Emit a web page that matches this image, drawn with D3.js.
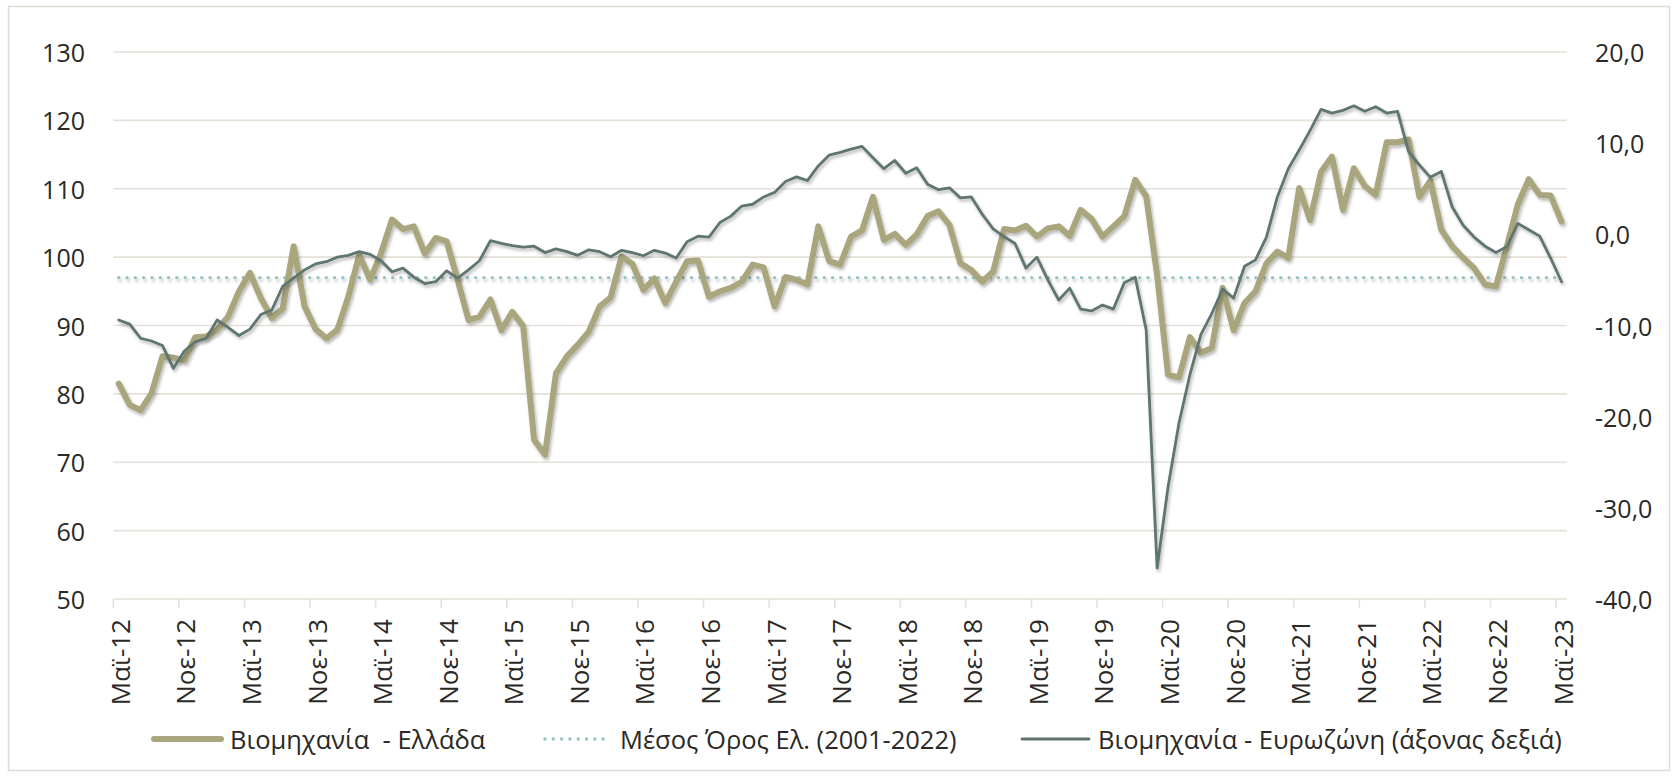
<!DOCTYPE html>
<html>
<head>
<meta charset="utf-8">
<script src="https://cdn.jsdelivr.net/npm/d3@7"></script>
<style>
  html, body { margin: 0; padding: 0; background: #fff; }
  svg { display: block; font-family: "Open Sans", "Noto Sans", sans-serif; }
</style>
</head>
<body>
<svg id="chart" width="1678" height="777"></svg>
<script>
// monthly, Μαϊ-12 .. Μαϊ-23 (133 months)
var greece = [
  81.5, 78.4, 77.6, 80.1, 85.5, 85.3, 84.9, 88.3, 88.4, 89.4,
  91.3, 95.0, 97.7, 94.0, 91.1, 92.5, 101.6, 92.8, 89.5, 88.1,
  89.4, 94.2, 100.3, 96.7, 100.6, 105.5, 104.1, 104.5, 100.5, 102.8,
  102.3, 96.7, 90.8, 91.3, 93.8, 89.3, 92.0, 89.9, 73.3, 71.1,
  83.0, 85.5, 87.2, 89.1, 92.8, 94.1, 100.1, 99.0, 95.2, 96.9,
  93.3, 96.4, 99.4, 99.5, 94.2, 95.0, 95.5, 96.4, 98.9, 98.5,
  92.8, 97.1, 96.7, 96.0, 104.5, 99.4, 98.9, 103.0, 103.9, 108.8,
  102.5, 103.4, 101.8, 103.3, 106.0, 106.7, 104.7, 99.1, 98.1, 96.4,
  97.9, 104.1, 103.9, 104.6, 103.0, 104.2, 104.5, 103.1, 106.9, 105.6,
  103.0, 104.5, 106.0, 111.3, 108.9, 97.4, 82.8, 82.4, 88.3, 86.0,
  86.7, 95.5, 89.3, 93.3, 95.0, 99.1, 100.8, 99.9, 110.1, 105.4,
  112.5, 114.7, 106.9, 113.0, 110.4, 109.1, 116.8, 116.8, 117.2, 108.8,
  111.2, 104.0, 101.6, 99.9, 98.4, 96.0, 95.7, 101.6, 107.7, 111.4,
  109.1, 109.0, 105.2
];

var eurozone = [
  -9.4, -9.85, -11.4, -11.7, -12.2, -14.7, -12.8, -11.8, -11.4, -9.4,
  -10.2, -11.1, -10.4, -8.8, -8.3, -5.7, -4.8, -3.9, -3.25, -3.0,
  -2.5, -2.3, -1.9, -2.2, -2.9, -4.1, -3.7, -4.7, -5.4, -5.2,
  -4.0, -4.8, -3.9, -2.9, -0.7, -1.0, -1.25, -1.4, -1.3, -2.0,
  -1.6, -1.9, -2.3, -1.7, -1.9, -2.45, -1.75, -2.0, -2.35, -1.75,
  -2.05, -2.6, -0.8, -0.2, -0.3, 1.3, 2.0, 3.1, 3.3, 4.1,
  4.6, 5.8, 6.3, 5.9, 7.5, 8.7, 9.0, 9.35, 9.65, 8.4,
  7.2, 8.1, 6.7, 7.3, 5.5, 4.9, 5.1, 4.0, 4.1, 2.2,
  0.6, -0.25, -1.0, -3.7, -2.5, -5.0, -7.2, -5.9, -8.2, -8.4,
  -7.75, -8.2, -5.3, -4.7, -10.5, -36.6, -27.7, -20.7, -15.4, -11.0,
  -8.7, -6.0, -7.0, -3.5, -2.8, -0.3, 4.1, 7.2, 9.25, 11.4,
  13.7, 13.3, 13.6, 14.1, 13.5, 14.0, 13.3, 13.5, 9.1, 7.6,
  6.25, 6.9, 3.0, 1.0, -0.3, -1.3, -2.0, -1.35, 1.2, 0.5,
  -0.2, -2.6, -5.2
];

var averageGreece = 97.0;

var tickLabels = [
  "Μαϊ-12", "Νοε-12", "Μαϊ-13", "Νοε-13", "Μαϊ-14", "Νοε-14", "Μαϊ-15", "Νοε-15",
  "Μαϊ-16", "Νοε-16", "Μαϊ-17", "Νοε-17", "Μαϊ-18", "Νοε-18", "Μαϊ-19", "Νοε-19",
  "Μαϊ-20", "Νοε-20", "Μαϊ-21", "Νοε-21", "Μαϊ-22", "Νοε-22", "Μαϊ-23"
];
var leftTicks = [50, 60, 70, 80, 90, 100, 110, 120, 130];
var rightTicks = [-40, -30, -20, -10, 0, 10, 20];

var legendNames = [
  "Βιομηχανία  - Ελλάδα",
  "Μέσος Όρος Ελ. (2001-2022)",
  "Βιομηχανία - Ευρωζώνη (άξονας δεξιά)"
];

(function() {

var colGreece = "#a9a67e",
    colEuro = "#5f746f",
    colAvg = "#97c3c1",
    colGrid = "#e5e1d9",
    colText = "#2a2925";

var svg = d3.select("#chart");

var plotLeft = 113.3, plotRight = 1567, plotTop = 52, plotBottom = 599;

var x = d3.scaleBand()
    .domain(d3.range(greece.length))
    .range([plotLeft, plotRight]);
var cx = function(i) { return x(i) + x.bandwidth() / 2; };

var yL = d3.scaleLinear().domain([50, 130]).range([plotBottom, plotTop]);
var yR = d3.scaleLinear().domain([-40, 20]).range([plotBottom, plotTop]);

// shadow under lines (user space, so flat lines keep it too)
var defs = svg.append("defs");
defs.append("filter")
    .attr("id", "shadow")
    .attr("filterUnits", "userSpaceOnUse")
    .attr("x", 0).attr("y", 0)
    .attr("width", 1678).attr("height", 777)
  .append("feDropShadow")
    .attr("dx", 1.5).attr("dy", 2.5)
    .attr("stdDeviation", 1.6)
    .attr("flood-color", "#000")
    .attr("flood-opacity", 0.28);

// frame
svg.append("rect")
    .attr("x", 8.5).attr("y", 6.5)
    .attr("width", 1661).attr("height", 764)
    .attr("fill", "none")
    .attr("stroke", "#dedbd3")
    .attr("stroke-width", 1.5);

// gridlines
svg.append("g")
  .selectAll("line")
  .data(leftTicks)
  .enter().append("line")
    .attr("x1", plotLeft).attr("x2", plotRight)
    .attr("y1", function(d) { return yL(d); })
    .attr("y2", function(d) { return yL(d); })
    .attr("stroke", colGrid)
    .attr("stroke-width", 1.6);

// x ticks
var tickIdx = tickLabels.map(function(d, k) { return k * 6; });
svg.append("g")
  .selectAll("line")
  .data(tickIdx)
  .enter().append("line")
    .attr("x1", function(i) { return x(i); })
    .attr("x2", function(i) { return x(i); })
    .attr("y1", plotBottom).attr("y2", plotBottom + 8.5)
    .attr("stroke", colGrid)
    .attr("stroke-width", 1.6);

// x labels
svg.append("g")
  .selectAll("text")
  .data(tickIdx)
  .enter().append("text")
    .attr("transform", function(i) { return "translate(" + (cx(i) + 1) + "," + 619 + ") rotate(-90)"; })
    .attr("text-anchor", "end")
    .attr("dominant-baseline", "central")
    .attr("font-size", 26)
    .attr("fill", colText)
    .text(function(i, k) { return tickLabels[k]; });

// left axis labels
svg.append("g")
  .selectAll("text")
  .data(leftTicks)
  .enter().append("text")
    .attr("x", 85)
    .attr("y", function(d) { return yL(d); })
    .attr("text-anchor", "end")
    .attr("dominant-baseline", "central")
    .attr("font-size", 25)
    .attr("fill", colText)
    .text(function(d) { return d; });

// right axis labels
var fmtR = function(d) { return d3.format(".1f")(d).replace(".", ",").replace("−", "-"); };
svg.append("g")
  .selectAll("text")
  .data(rightTicks)
  .enter().append("text")
    .attr("x", 1595)
    .attr("y", function(d) { return yR(d); })
    .attr("text-anchor", "start")
    .attr("dominant-baseline", "central")
    .attr("font-size", 25)
    .attr("fill", colText)
    .text(fmtR);

// average line
svg.append("line")
    .attr("x1", cx(0)).attr("x2", cx(greece.length - 1))
    .attr("y1", yL(averageGreece)).attr("y2", yL(averageGreece))
    .attr("stroke", colAvg)
    .attr("stroke-width", 3.4)
    .attr("stroke-linecap", "round")
    .attr("stroke-dasharray", "0 8.3")
    .attr("filter", "url(#shadow)");

// greek line
var lineL = d3.line()
    .x(function(d, i) { return cx(i); })
    .y(function(d) { return yL(d); });
svg.append("path")
    .datum(greece)
    .attr("d", lineL)
    .attr("fill", "none")
    .attr("stroke", colGreece)
    .attr("stroke-width", 6)
    .attr("stroke-linejoin", "round")
    .attr("stroke-linecap", "round")
    .attr("filter", "url(#shadow)");

// eurozone line (right axis)
var lineR = d3.line()
    .x(function(d, i) { return cx(i); })
    .y(function(d) { return yR(d); });
svg.append("path")
    .datum(eurozone)
    .attr("d", lineR)
    .attr("fill", "none")
    .attr("stroke", colEuro)
    .attr("stroke-width", 2.8)
    .attr("stroke-linejoin", "round")
    .attr("stroke-linecap", "round")
    .attr("filter", "url(#shadow)");

// legend
var legY = 739;
var legItems = [
  { x1: 154, x2: 221, tx: 230, color: colGreece, w: 6, dash: null },
  { x1: 545, x2: 611, tx: 620, color: colAvg, w: 3.4, dash: "0 8.3" },
  { x1: 1022, x2: 1089, tx: 1098, color: colEuro, w: 2.8, dash: null }
];
var leg = svg.append("g").selectAll("g")
    .data(legItems)
    .enter().append("g");
leg.append("line")
    .attr("x1", function(d) { return d.x1; })
    .attr("x2", function(d) { return d.x2; })
    .attr("y1", legY).attr("y2", legY)
    .attr("stroke", function(d) { return d.color; })
    .attr("stroke-width", function(d) { return d.w; })
    .attr("stroke-linecap", "round")
    .attr("stroke-dasharray", function(d) { return d.dash; });
leg.append("text")
    .attr("x", function(d) { return d.tx; })
    .attr("y", legY)
    .attr("dominant-baseline", "central")
    .attr("font-size", 25.5)
    .attr("fill", colText)
    .attr("xml:space", "preserve")
    .text(function(d, k) { return legendNames[k]; });

})();
</script>
</body>
</html>
